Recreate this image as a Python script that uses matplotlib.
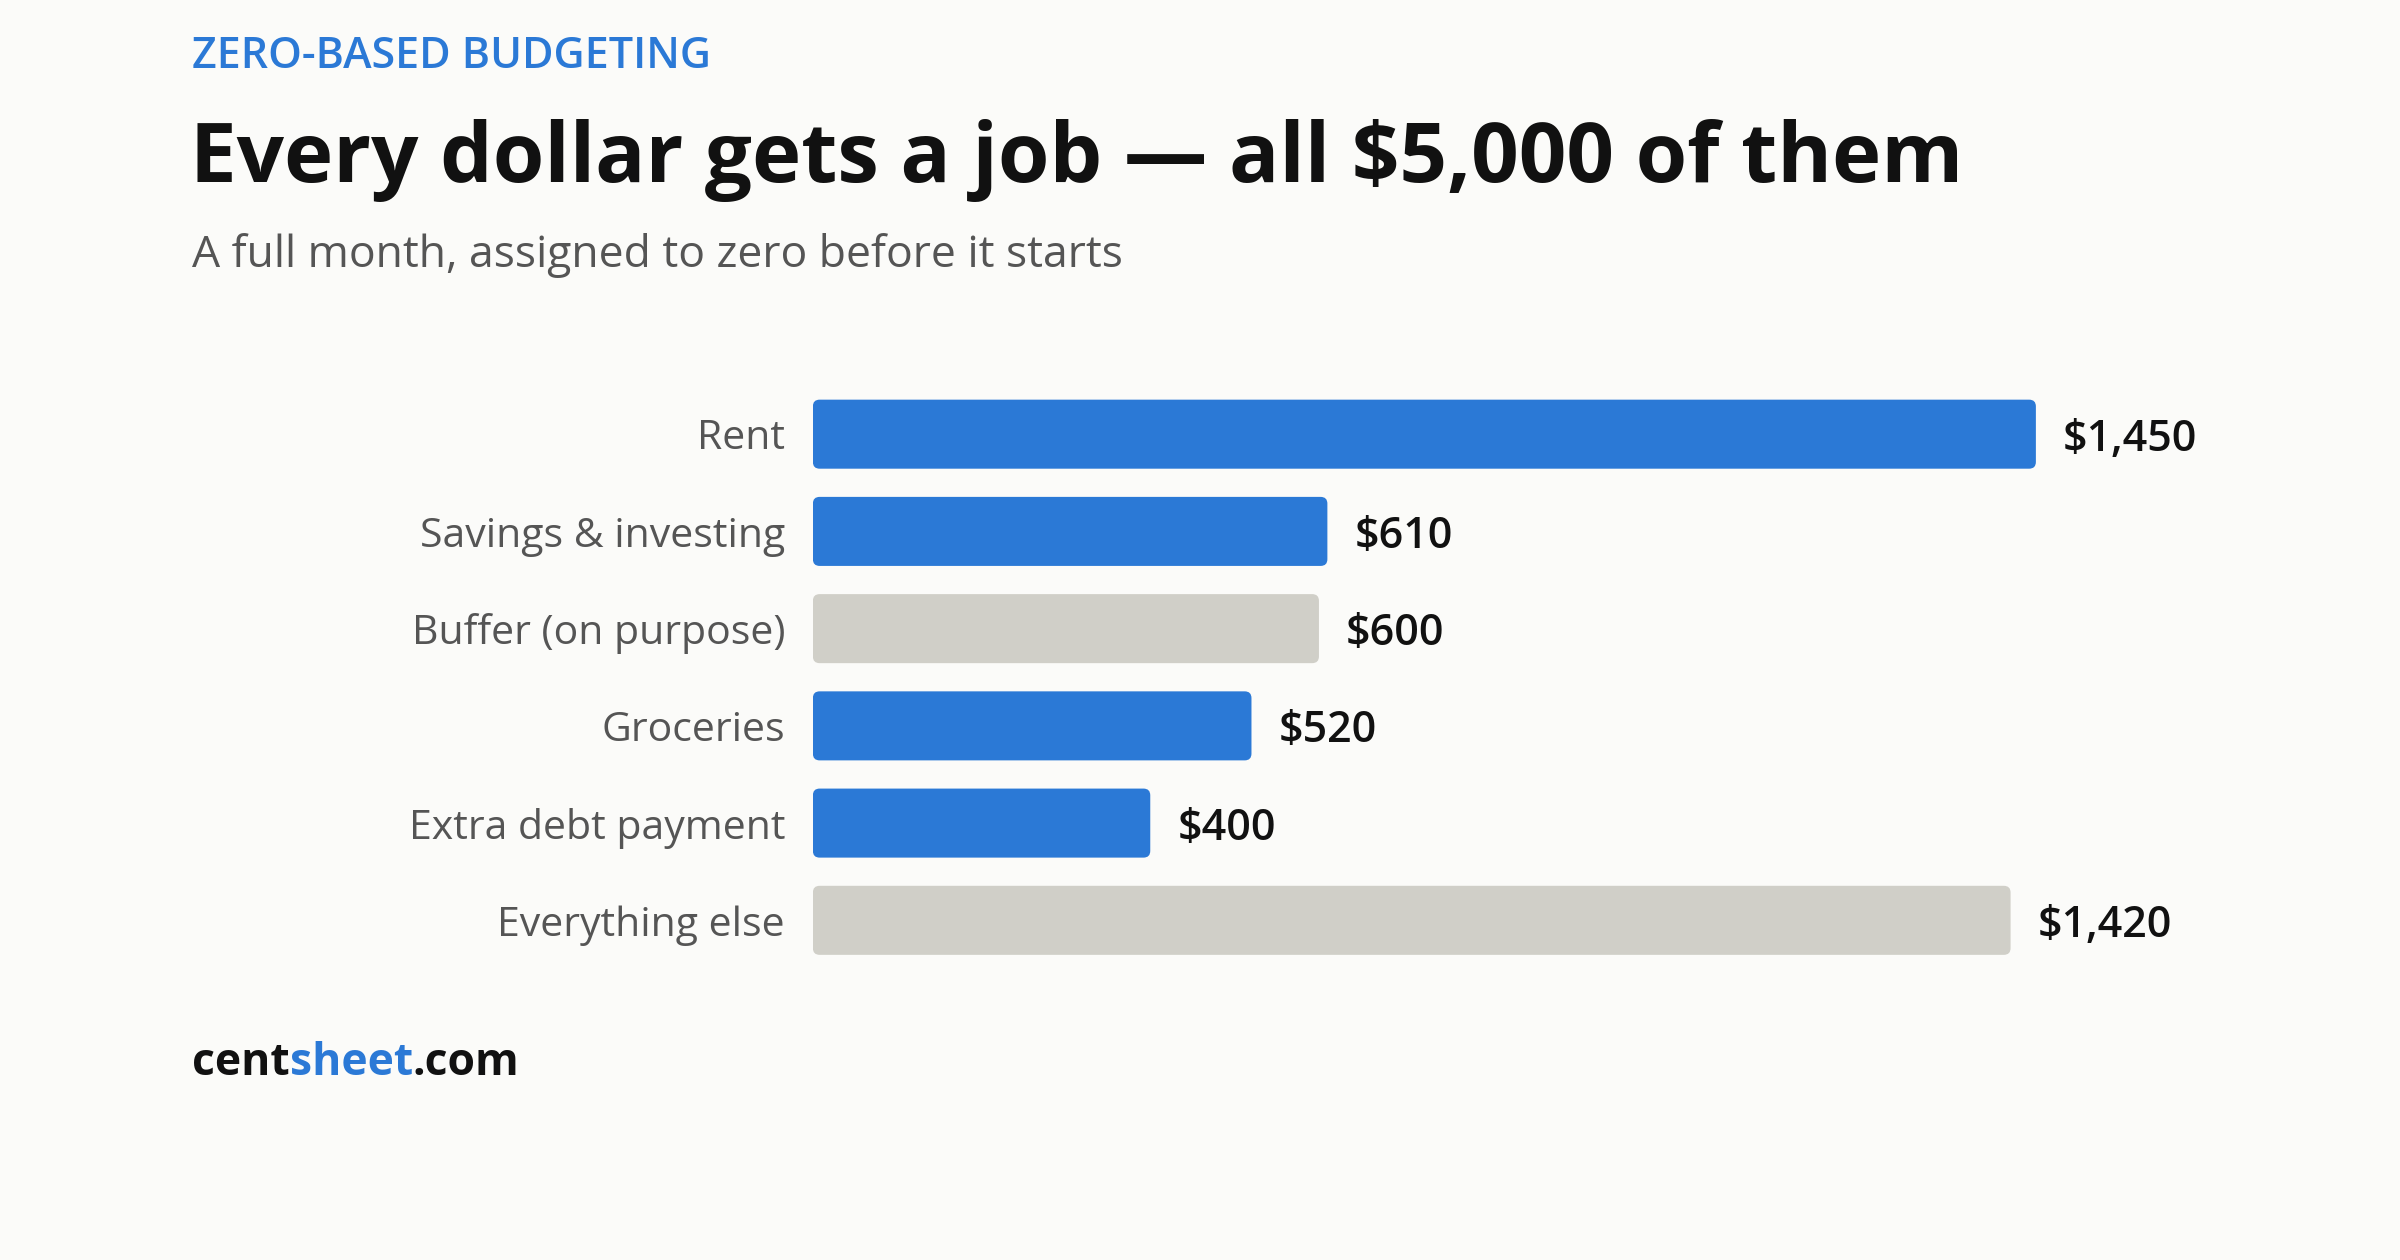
import matplotlib
matplotlib.use("Agg")
import matplotlib.pyplot as plt
from matplotlib.patches import FancyBboxPatch

categories = ["Rent", "Savings & investing", "Buffer (on purpose)", "Groceries", "Extra debt payment", "Everything else"]
values = [1450, 610, 600, 520, 400, 1420]
highlight = [True, True, False, True, True, False]

BLUE = "#2b79d6"
GRAY = "#d0cfc8"
BG = "#fbfbf9"
plt.rcParams['font.family'] = ['Open Sans', 'DejaVu Sans']

fig = plt.figure(figsize=(24, 12.6), dpi=100, facecolor=BG)
ax = fig.add_axes([0.3387, 0.231, 0.901 - 0.3387, 0.694 - 0.231])
ax.set_facecolor(BG)
ax.set_xlim(0, 1600)
ax.set_ylim(len(categories) - 0.5, -0.5)
for s in ax.spines.values():
    s.set_visible(False)
ax.set_xticks([])
ax.set_yticks(range(len(categories)))
ax.set_yticklabels(categories, fontsize=29.5, color="#555555")
for lbl in ax.get_yticklabels():
    lbl.set_verticalalignment("center_baseline")
ax.tick_params(axis='y', length=0, pad=20)

h = 0.71
fig.canvas.draw()
bb = ax.get_window_extent()
asp = (6 / bb.height) / (1600 / bb.width)
for i, (v, hl) in enumerate(zip(values, highlight)):
    p = FancyBboxPatch((0, i - h / 2), v, h,
                       boxstyle="round,pad=0,rounding_size=8",
                       mutation_aspect=asp,
                       facecolor=BLUE if hl else GRAY, edgecolor="none")
    ax.add_patch(p)
    ax.text(v + 32, i, f"${v:,}", va="center_baseline", ha="left",
            fontsize=31, fontweight="semibold", color="#111111")

fig.text(0.080, 0.955, "ZERO-BASED BUDGETING", fontsize=31, color=BLUE,
         fontweight="semibold", va="center", ha="left")
fig.text(0.079, 0.873, "Every dollar gets a job — all $5,000 of them", fontsize=60,
         fontweight="bold", color="#111111", va="center", ha="left")
fig.text(0.080, 0.797, "A full month, assigned to zero before it starts", fontsize=32,
         color="#555555", va="center", ha="left")

yf = 0.156
t1 = fig.text(0.080, yf, "cent", fontsize=32, fontweight="bold", color="#111111",
              va="center", ha="left")
t2 = fig.text(0, 0, "sheet", fontsize=32, fontweight="bold", color=BLUE,
              va="center", ha="left")
t3 = fig.text(0, 0, ".com", fontsize=32, fontweight="bold", color="#111111",
              va="center", ha="left")
fig.canvas.draw()
r = fig.canvas.get_renderer()
W = fig.bbox.width
x = 0.080 + t1.get_window_extent(r).width / W
t2.set_position((x, yf))
x += t2.get_window_extent(r).width / W
t3.set_position((x, yf))

fig.savefig("out.png", dpi=100, facecolor=BG)
